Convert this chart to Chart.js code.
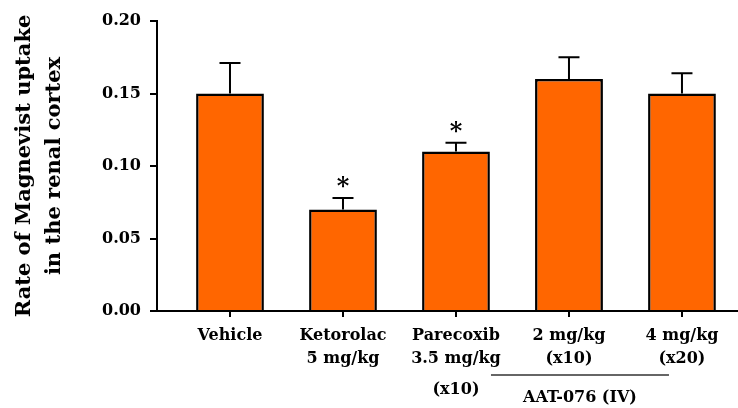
<!DOCTYPE html>
<html>
<head>
<meta charset="utf-8">
<script src="https://cdn.jsdelivr.net/npm/chart.js@4"></script>
<style>
  html, body { margin: 0; padding: 0; background: #fff; }
  #wrap { width: 738px; height: 408px; }
</style>
</head>
<body>
<div id="wrap"><canvas id="chart"></canvas></div>
<script>
const categories = [
  ['Vehicle'],
  ['Ketorolac', '5 mg/kg'],
  ['Parecoxib', '3.5 mg/kg'],
  ['2 mg/kg', '(x10)'],
  ['4 mg/kg', '(x20)']
];
const values = [0.150, 0.070, 0.110, 0.160, 0.150];
const errors = [0.021, 0.008, 0.006, 0.015, 0.014];
const significant = [false, true, true, false, false];
const yTicks = [0, 0.05, 0.10, 0.15, 0.20];

const FONT = 'DejaVu Serif';
const INK = '#000';

// error bars + asterisks + group annotation
const extras = {
  id: 'extras',
  afterDatasetsDraw(chart) {
    const ctx = chart.ctx;
    const x = chart.scales.x, y = chart.scales.y;
    ctx.save();
    ctx.strokeStyle = '#000';
    ctx.lineWidth = 2;
    values.forEach((v, i) => {
      const px = x.getPixelForValue(i + 1);
      const top = y.getPixelForValue(v + errors[i]);
      ctx.beginPath();
      ctx.moveTo(px, y.getPixelForValue(v));
      ctx.lineTo(px, top);
      ctx.moveTo(px - 10.5, top);
      ctx.lineTo(px + 10.5, top);
      ctx.stroke();
      if (significant[i]) {
        ctx.fillStyle = INK;
        ctx.font = 'bold 24px ' + FONT;
        ctx.textAlign = 'center';
        ctx.textBaseline = 'middle';
        ctx.fillText('*', px, top - 10);
      }
    });

    const b = chart.chartArea.bottom;
    ctx.fillStyle = INK;
    ctx.font = 'bold 16px ' + FONT;
    ctx.textAlign = 'center';
    ctx.textBaseline = 'middle';
    ctx.fillText('(x10)', x.getPixelForValue(3), b + 79);

    const l = x.getPixelForValue(4) - 78, r = x.getPixelForValue(5) - 13;
    ctx.strokeStyle = '#666';
    ctx.lineWidth = 2;
    ctx.beginPath();
    ctx.moveTo(l, b + 64);
    ctx.lineTo(r, b + 64);
    ctx.stroke();
    ctx.fillText('AAT-076 (IV)', (l + r) / 2, b + 87);
    ctx.restore();
  }
};

new Chart(document.getElementById('chart'), {
  type: 'bar',
  data: {
    datasets: [{
      data: values.map((v, i) => ({ x: i + 1, y: v })),
      backgroundColor: '#ff6600',
      borderColor: '#000',
      borderWidth: 2.5,
      categoryPercentage: 1,
      barPercentage: 0.6
    }]
  },
  options: {
    responsive: true,
    maintainAspectRatio: false,
    animation: false,
    layout: { padding: { top: 21, right: 1, left: 0, bottom: 0 } },
    plugins: { legend: { display: false }, tooltip: { enabled: false } },
    scales: {
      x: {
        type: 'linear',
        offset: false,
        z: 1,
        min: 0.354,
        max: 5.487,
        afterBuildTicks: s => { s.ticks = categories.map((c, i) => ({ value: i + 1 })); },
        afterFit: s => { s.height = 97; },
        border: { color: '#000', width: 2 },
        grid: { offset: false, drawOnChartArea: false, color: '#000', lineWidth: 2, tickLength: 6 },
        ticks: {
          padding: 7,
          color: INK,
          maxRotation: 0,
          autoSkip: false,
          font: { family: FONT, size: 16, weight: 'bold', lineHeight: 1.45 },
          callback: v => categories[v - 1]
        }
      },
      y: {
        min: 0,
        max: 0.2,
        afterBuildTicks: s => { s.ticks = yTicks.map(v => ({ value: v })); },
        afterFit: s => { s.width = 157; },
        border: { color: '#000', width: 2 },
        grid: { drawOnChartArea: false, color: '#000', lineWidth: 2, tickLength: 7 },
        ticks: {
          padding: 9,
          color: INK,
          font: { family: FONT, size: 16, weight: 'bold' },
          callback: v => v.toFixed(2)
        },
        title: {
          display: true,
          text: ['Rate of Magnevist uptake', 'in the renal cortex'],
          color: INK,
          font: { family: FONT, size: 21, weight: 'bold', lineHeight: 1.45 },
          padding: { top: 9, bottom: 0 }
        }
      }
    }
  },
  plugins: [extras]
});
</script>
</body>
</html>
